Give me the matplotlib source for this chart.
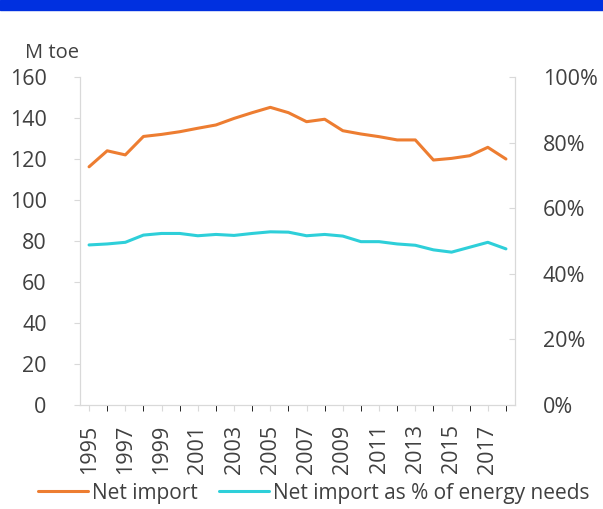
import numpy as np
import matplotlib.pyplot as plt
from matplotlib.patches import Rectangle

years = list(range(1995, 2019))
net_import = [116.2, 124.0, 122.0, 131.0, 132.0, 133.3, 135.0, 136.6, 139.8, 142.6,
              145.2, 142.6, 138.2, 139.4, 133.8, 132.2, 130.9, 129.3, 129.3, 119.5,
              120.3, 121.6, 125.7, 120.0]
import_share = [48.8, 49.1, 49.6, 51.8, 52.3, 52.3, 51.6, 52.0, 51.7, 52.3,
                52.8, 52.7, 51.6, 52.0, 51.5, 49.8, 49.8, 49.1, 48.7, 47.3,
                46.6, 48.1, 49.6, 47.6]
left_ticks = [0, 20, 40, 60, 80, 100, 120, 140, 160]
right_ticks = [0, 20, 40, 60, 80, 100]

plt.rcParams['font.family'] = ['Open Sans', 'DejaVu Sans']
txt = '#404040'
grid_c = '#d9d9d9'
fs = 15.5

fig = plt.figure(figsize=(6.03, 5.09), dpi=100)
fig.patches.append(Rectangle((0, 1 - 10 / 509), 1, 10 / 509, transform=fig.transFigure,
                             color='#0030e0', zorder=0))

ax = fig.add_axes([80 / 603, 1 - 405 / 509, (515 - 80) / 603, (405 - 77) / 509])
ax2 = ax.twinx()

l1, = ax.plot(years, net_import, color='#ed7d31', lw=2.2, solid_capstyle='round')
l2, = ax2.plot(years, import_share, color='#2ecfd9', lw=2.2, solid_capstyle='round')

ax.set_ylim(0, 160)
ax.set_yticks(left_ticks)
ax2.set_ylim(0, 100)
ax2.set_yticks(right_ticks)
ax2.set_yticklabels([f'{t}%' for t in right_ticks])
ax.set_xlim(1994.5, 2018.5)
ax.set_xticks(years[::2])
ax.set_xticks(years, minor=True)
ax.set_xticklabels([str(y) for y in years[::2]], rotation=90)

for a in (ax, ax2):
    for s in a.spines.values():
        s.set_color(grid_c)
    a.spines['top'].set_visible(False)
    a.tick_params(colors=grid_c, labelcolor=txt, labelsize=fs)
ax.tick_params(axis='y', length=4, pad=20)
ax2.tick_params(axis='y', direction='in', length=4, pad=20)
ax.tick_params(axis='x', which='both', length=4, pad=10)

fig.text(25 / 603, 1 - 53 / 509, 'M toe', fontsize=14.5, color=txt, va='center')

fig.legend([l1, l2], ['Net import', 'Net import as % of energy needs'],
           loc='center', bbox_to_anchor=(314 / 603, 1 - 493 / 509), ncol=2, frameon=False,
           fontsize=15, handlelength=2.4, columnspacing=1.0, handletextpad=0.2,
           labelcolor=txt)

fig.savefig('out.png', dpi=100)
